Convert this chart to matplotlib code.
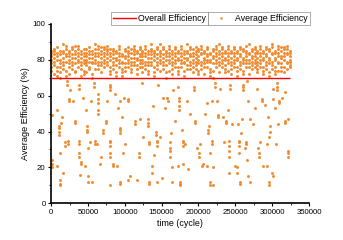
import numpy as np
import matplotlib
matplotlib.use("Agg")
import matplotlib.pyplot as plt
from matplotlib.lines import Line2D

plt.rcParams['font.family'] = ['Liberation Sans', 'DejaVu Sans']

# overall efficiency (%) over the whole run
overall_eff = 70
run_start = 0
run_end = 324500

# dense band of cycles above the overall line: one column of values every 4000 cycles
band_x = np.arange(0, 328000, 4000)
band_y = [
    [85, 82, 78, 76, 84, 80, 74], [86, 83, 79, 72, 85, 81, 77], [84, 80, 76, 71, 87, 82, 74],
    [83, 78, 73, 70, 85, 80, 76], [89, 85, 81, 77, 84, 79, 75], [86, 82, 79, 74, 88, 83, 71],
    [84, 80, 76, 72, 85, 82, 78], [87, 83, 79, 75, 86, 81, 77], [85, 81, 78, 74, 88, 83, 73],
    [88, 84, 80, 76, 86, 82, 79], [83, 79, 75, 71, 85, 81, 77], [86, 82, 78, 74, 84, 80, 72],
    [84, 80, 77, 73, 86, 82, 79], [87, 83, 79, 75, 85, 81, 76], [85, 81, 78, 72, 83, 79, 70],
    [89, 86, 82, 78, 84, 80, 75], [86, 82, 79, 75, 88, 84, 77], [85, 81, 77, 73, 87, 83, 79],
    [87, 84, 80, 76, 86, 82, 78], [88, 85, 81, 77, 86, 83, 79], [84, 80, 76, 72, 86, 82, 74],
    [86, 83, 79, 75, 85, 81, 77], [85, 81, 77, 73, 84, 80, 71], [88, 84, 80, 76, 86, 82, 78],
    [83, 79, 75, 71, 82, 78, 73], [86, 82, 78, 74, 85, 81, 76], [87, 84, 80, 76, 85, 82, 78],
    [84, 81, 77, 73, 86, 79, 75], [88, 85, 81, 77, 86, 83, 79], [85, 81, 77, 72, 84, 80, 75],
    [87, 83, 80, 76, 86, 82, 78], [84, 80, 76, 73, 85, 82, 78], [86, 82, 79, 75, 88, 84, 77],
    [85, 81, 77, 74, 83, 79, 72], [89, 85, 81, 77, 86, 83, 79], [84, 80, 76, 71, 85, 82, 73],
    [86, 83, 79, 75, 87, 81, 77], [85, 82, 78, 74, 89, 84, 80], [87, 83, 79, 75, 86, 81, 77],
    [84, 80, 77, 73, 85, 82, 70], [86, 82, 78, 74, 88, 84, 80], [85, 81, 77, 72, 83, 79, 75],
    [87, 84, 80, 76, 86, 82, 78], [84, 80, 76, 72, 85, 81, 74], [88, 84, 80, 76, 86, 82, 78],
    [85, 81, 78, 74, 83, 79, 71], [89, 85, 81, 77, 84, 80, 75], [86, 82, 79, 75, 87, 83, 77],
    [84, 80, 76, 73, 86, 82, 78], [87, 83, 79, 75, 85, 81, 77], [85, 82, 78, 74, 86, 80, 72],
    [86, 83, 79, 75, 88, 84, 77], [84, 80, 76, 72, 85, 81, 78], [87, 83, 80, 76, 86, 82, 79],
    [83, 79, 75, 71, 84, 80, 73], [86, 82, 78, 74, 85, 81, 70], [88, 84, 80, 76, 86, 82, 78],
    [85, 81, 77, 73, 89, 83, 79], [87, 84, 80, 76, 86, 82, 78], [84, 80, 77, 73, 85, 81, 75],
    [86, 82, 78, 74, 88, 84, 80], [85, 81, 77, 72, 84, 79, 75], [87, 84, 80, 76, 86, 82, 78],
    [84, 80, 76, 71, 85, 81, 74], [86, 83, 79, 75, 87, 82, 77], [85, 81, 78, 74, 86, 80, 72],
    [88, 84, 80, 76, 85, 82, 78], [84, 80, 76, 72, 89, 83, 78], [86, 82, 79, 75, 85, 81, 77],
    [87, 84, 80, 76, 86, 82, 78], [85, 81, 77, 73, 84, 79, 75], [88, 84, 80, 76, 86, 82, 78],
    [84, 80, 76, 72, 85, 81, 74], [86, 83, 79, 75, 87, 82, 77], [85, 81, 78, 73, 86, 80, 71],
    [87, 83, 79, 75, 89, 84, 77], [84, 80, 76, 72, 85, 81, 74], [86, 82, 78, 74, 88, 84, 79],
    [85, 82, 78, 74, 87, 81, 76], [87, 84, 80, 76, 86, 82, 73], [86, 83, 79, 75, 88, 84, 78],
    [85, 82, 79, 76, 84, 80, 77],
]

# scattered low-efficiency cycles
low_x = [
    1000, 1800, 1800, 1800, 7700, 8600, 10900, 10900, 10900, 10900, 12200, 12200, 12200, 12200,
    13600, 15400, 16700, 19000, 19000, 21300, 21300, 23500, 23500, 24400, 24400, 25800, 30300,
    32600, 32600, 38400, 38400, 38400, 38400, 38400, 38400, 39300, 40200, 40200, 43000, 46100,
    47500, 49300, 49300, 49300, 50600, 50600, 50600, 52900, 53800, 56100, 58800, 58800, 59700,
    59700, 62000, 64200, 64200, 64200, 64200, 64200, 66500, 67800, 71000, 71000, 74600, 74600,
    75500, 80000, 80000, 80000, 80000, 80000, 80000, 80000, 80000, 80000, 84600, 84600, 86800,
    89100, 91300, 93600, 93600, 93600, 93600, 93600, 93600, 95900, 98100, 99000, 100400,
    104900, 104900, 104900, 107200, 114000, 114000, 116200, 119800, 119800, 120700, 123000,
    125300, 132000, 132000, 132000, 133400, 133400, 133400, 133400, 136600, 137500, 138800,
    139700, 142400, 142400, 143300, 143300, 143300, 143300, 145600, 147900, 150100, 152400,
    154700, 156900, 159200, 161400, 161400, 161400, 161400, 162300, 163700, 163700, 165000,
    168200, 172700, 172700, 174100, 174100, 174100, 174100, 175000, 175000, 175000, 177300,
    178600, 178600, 178600, 179500, 181800, 184000, 186400, 188600, 194400, 194400, 195300,
    195300, 197600, 201200, 201200, 202100, 204400, 206700, 208900, 211200, 211200, 213400,
    213400, 214800, 215700, 215700, 215700, 218000, 218000, 218000, 219300, 220200, 222500,
    222500, 224700, 227000, 227000, 229300, 233800, 235100, 237400, 237400, 240600, 241900,
    241900, 241900, 241900, 241900, 242800, 242800, 246000, 249600, 251900, 252800, 254100,
    255500, 255500, 255500, 255500, 256400, 256400, 257300, 259600, 260900, 260900, 260900,
    263200, 264500, 264500, 265400, 265400, 267700, 267700, 270000, 270000, 274500, 276800,
    279000, 281300, 282600, 282600, 283500, 285800, 285800, 288000, 290300, 292600, 292600,
    294800, 296200, 296200, 296200, 297100, 297100, 299400, 300700, 301600, 301600, 303900,
    305200, 307000, 307000, 307000, 308400, 309800, 309800, 312900, 317400, 317400, 317400,
    322000, 322000, 322000, 322000,
]
low_y = [
    49, 20, 22, 24, 21, 52, 38, 40, 42, 43, 10, 11, 13, 28,
    45, 48, 17, 32, 34, 66, 68, 33, 35, 57, 58, 63, 57,
    45, 46, 64, 66, 33, 35, 26, 28, 16, 22, 23, 59, 21,
    52, 40, 41, 43, 31, 12, 15, 34, 57, 12, 65, 67, 33,
    35, 33, 56, 58, 61, 50, 52, 22, 26, 39, 41, 45, 46,
    57, 63, 65, 66, 32, 34, 35, 26, 28, 10, 21, 22, 61,
    21, 53, 57, 39, 41, 42, 11, 12, 48, 28, 59, 33,
    57, 58, 13, 15, 44, 46, 13, 26, 28, 47, 67,
    37, 47, 43, 45, 33, 34, 11, 12, 21, 17, 54,
    27, 38, 40, 32, 34, 35, 12, 66, 37, 14, 59,
    53, 59, 57, 26, 29, 31, 34, 39, 12, 20, 63,
    46, 21, 65, 52, 54, 57, 59, 10, 11, 12, 41,
    32, 34, 35, 22, 33, 57, 19, 50, 63, 65, 45,
    46, 31, 26, 28, 33, 21, 22, 50, 21, 56, 39,
    41, 43, 10, 12, 28, 33, 35, 57, 10, 20, 65,
    67, 57, 48, 49, 64, 48, 34, 45, 46, 52, 26,
    29, 32, 35, 17, 64, 66, 44, 21, 20, 17, 44,
    32, 34, 35, 28, 11, 12, 39, 47, 63, 65, 66,
    31, 33, 34, 68, 24, 57, 15, 47, 12, 44, 53,
    64, 31, 26, 28, 34, 57, 58, 21, 55, 21, 33,
    48, 37, 10, 12, 40, 43, 17, 58, 15, 64, 53,
    33, 63, 65, 67, 44, 56, 57, 59, 62, 45, 46,
    47, 26, 28, 29,
]

x_ticks = [0, 50000, 100000, 150000, 200000, 250000, 300000, 350000]
y_ticks = [0, 20, 40, 60, 80, 100]

orange = '#F28A2E'
red = '#FF0000'

bx = np.repeat(band_x, [len(c) for c in band_y])
by = np.concatenate([np.array(c, dtype=float) for c in band_y])
avg_x = np.concatenate([bx, np.array(low_x, dtype=float)])
avg_y = np.concatenate([by, np.array(low_y, dtype=float)])

fig = plt.figure(figsize=(3.43, 2.40), dpi=100)
ax = fig.add_axes([0.149, 0.153, 0.752, 0.747])

ax.scatter(avg_x, avg_y, s=4.5, color=orange, linewidths=0, zorder=2)
ax.hlines(overall_eff, run_start, run_end, color=red, linewidth=1.0, zorder=3)

ax.set_xlim(0, 350000)
ax.set_ylim(0, 100)
ax.set_xticks(x_ticks)
ax.set_yticks(y_ticks)
ax.set_xticks([25000, 75000, 125000, 175000, 225000, 275000, 325000], minor=True)
ax.set_yticks([10, 30, 50, 70, 90], minor=True)
ax.tick_params(axis='both', which='major', direction='out', length=2.5, width=0.8,
               labelsize=5.6, pad=1.5)
ax.tick_params(axis='both', which='minor', direction='out', length=1.5, width=0.6)

for side in ['top', 'right']:
    ax.spines[side].set_visible(False)
for side in ['left', 'bottom']:
    ax.spines[side].set_linewidth(1.2)

ax.set_xlabel('time (cycle)', fontsize=6.4, labelpad=2)
ax.set_ylabel('Average Efficiency (%)', fontsize=6.6, labelpad=2)

# two separate legend boxes above the plot, Origin style
h1 = Line2D([], [], color=red, linewidth=1.0)
h2 = Line2D([], [], color=orange, marker='o', linestyle='none', markersize=1.8,
            markeredgewidth=0)
leg_kw = dict(fontsize=6.3, frameon=True, fancybox=False, edgecolor='#888888',
              borderpad=0.2, handlelength=2.6, handletextpad=0.3, borderaxespad=0)
leg1 = fig.legend([h1], ['Overall Efficiency'], loc='upper left',
                  bbox_to_anchor=(111 / 343, 1 - 12 / 240), **leg_kw)
leg1.get_frame().set_linewidth(0.6)
leg2 = fig.legend([h2], ['Average Efficiency'], loc='upper left',
                  bbox_to_anchor=(208 / 343, 1 - 12 / 240), **leg_kw)
leg2.get_frame().set_linewidth(0.6)

fig.savefig('out.png', dpi=100)
